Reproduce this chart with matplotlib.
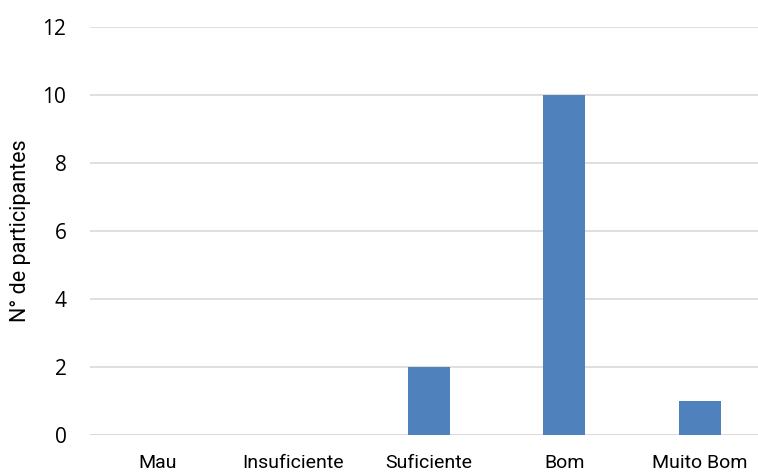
import matplotlib
matplotlib.use("Agg")
import matplotlib.pyplot as plt

plt.rcParams["font.family"] = ["Roboto", "DejaVu Sans"]

categories = ["Mau", "Insuficiente", "Suficiente", "Bom", "Muito Bom"]
participants = [0, 0, 2, 10, 1]
y_ticks = [0, 2, 4, 6, 8, 10, 12]

fig = plt.figure(figsize=(7.58, 4.73), dpi=100)
ax = fig.add_axes([90 / 758, 38 / 473, 677.5 / 758, 408 / 473])

x = list(range(len(categories)))
ax.bar(x, participants, width=0.31, color="#4F81BD", zorder=3)

ax.set_xlim(-0.5, len(categories) - 0.5)
ax.set_ylim(0, 12)
ax.yaxis.grid(True, color="#D9D9D9", linewidth=1.2, zorder=0)
for s in ax.spines.values():
    s.set_visible(False)
ax.axhline(0, color="#D9D9D9", linewidth=1.2, zorder=2)

ax.tick_params(axis="both", length=0)
ax.tick_params(axis="y", pad=17)
ax.tick_params(axis="x", pad=14)
ax.set_xticks(x)
ax.set_xticklabels(categories, fontsize=14)
ax.set_yticks(y_ticks)
ax.set_yticklabels([str(v) for v in y_ticks], fontsize=15, family=["Open Sans", "DejaVu Sans"])
ax.set_ylabel("N° de participantes", fontsize=15.5, labelpad=8)

fig.savefig("out.png", dpi=100)
